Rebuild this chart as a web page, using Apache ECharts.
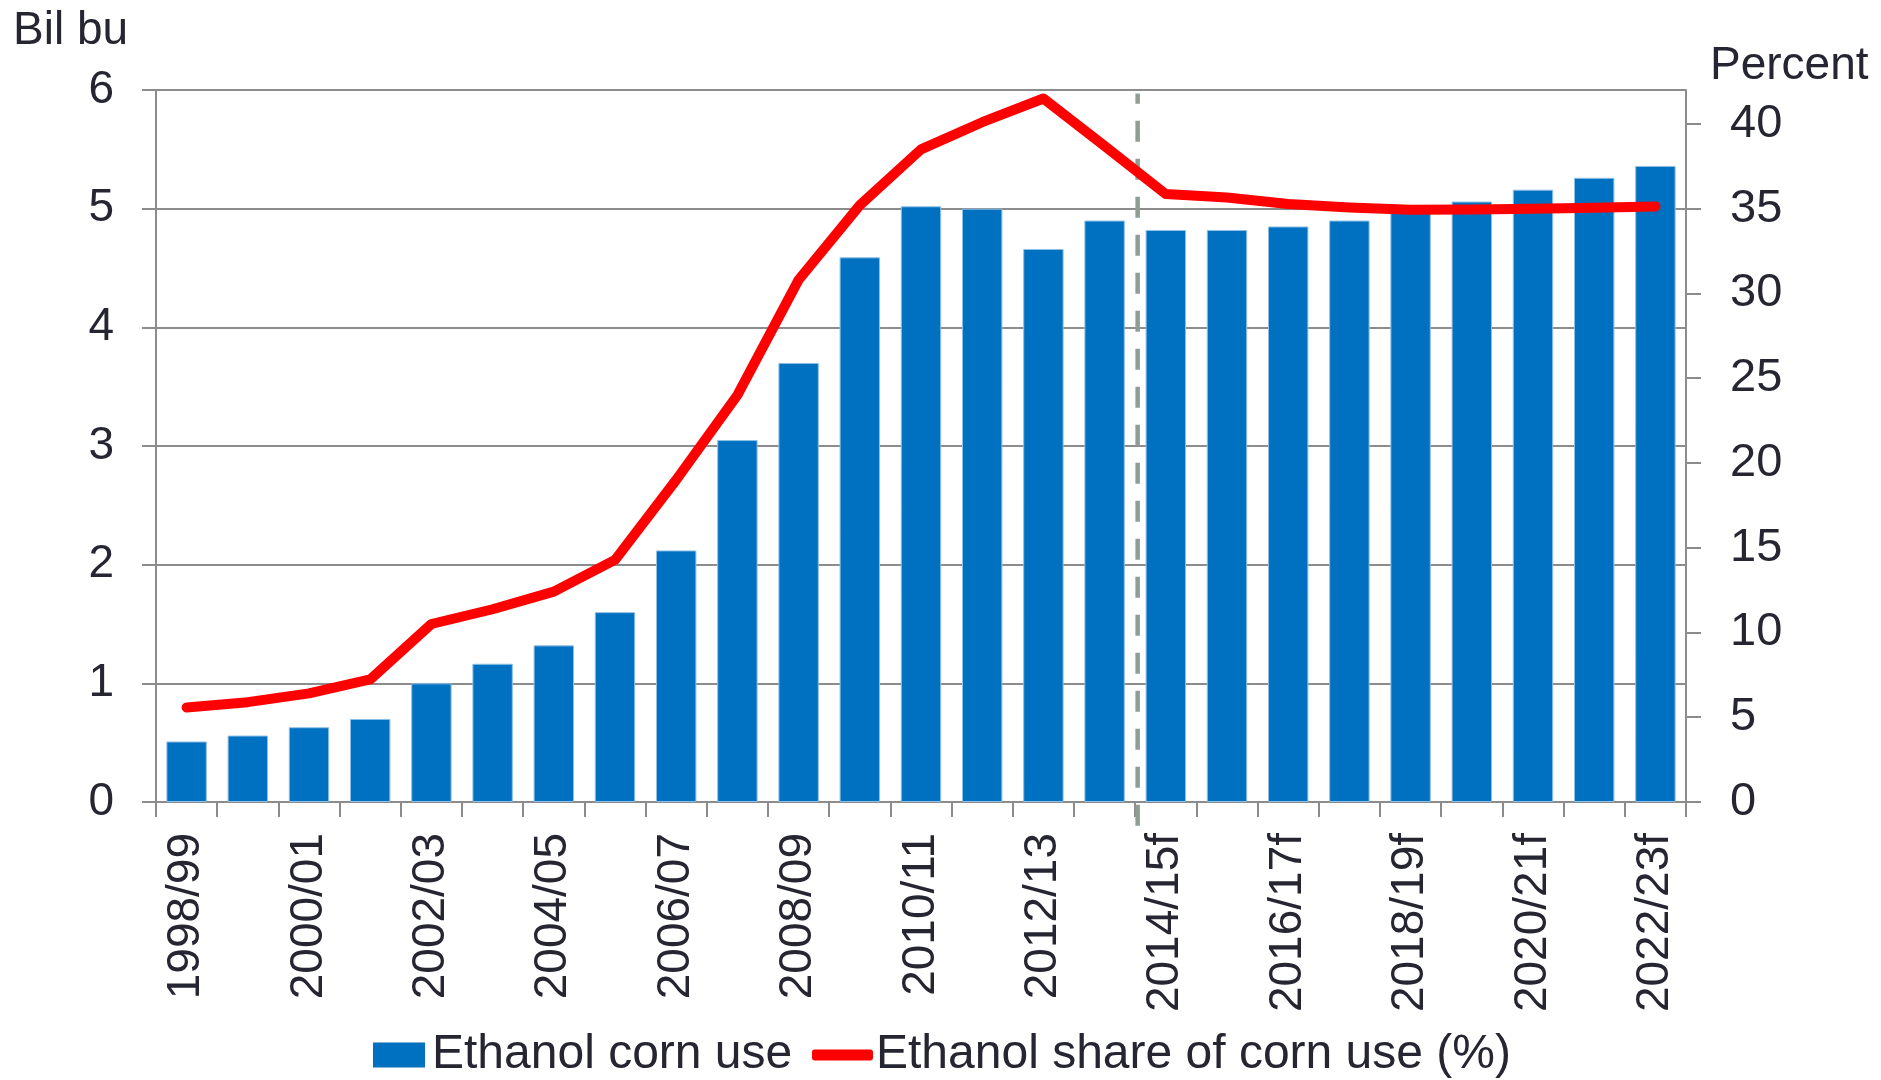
<!DOCTYPE html>
<html>
<head>
<meta charset="utf-8">
<style>
  html, body { margin: 0; padding: 0; background: #ffffff; }
  #chart { width: 1881px; height: 1080px; }
</style>
<script src="https://cdn.jsdelivr.net/npm/echarts@6/dist/echarts.min.js"></script>
</head>
<body>
<div id="chart"></div>
<script>
const categories = [
  '1998/99', '1999/00', '2000/01', '2001/02', '2002/03', '2003/04', '2004/05',
  '2005/06', '2006/07', '2007/08', '2008/09', '2009/10', '2010/11', '2011/12',
  '2012/13', '2013/14', '2014/15f', '2015/16f', '2016/17f', '2017/18f',
  '2018/19f', '2019/20f', '2020/21f', '2021/22f', '2022/23f'
];
const cornUse = [
  0.51, 0.56, 0.63, 0.70, 1.00, 1.165, 1.32, 1.60, 2.12, 3.05, 3.70, 4.59,
  5.02, 5.00, 4.66, 4.90, 4.82, 4.82, 4.85, 4.90, 4.97, 5.06, 5.16, 5.26, 5.36
];
const sharePct = [
  5.58, 5.89, 6.41, 7.23, 10.5, 11.37, 12.41, 14.28, 19.0, 24.0, 30.8, 35.2,
  38.5, 40.1, 41.5, 38.7, 35.86, 35.66, 35.27, 35.07, 34.93, 34.95, 35.0, 35.05, 35.13
];
const leftTicks = [0, 1, 2, 3, 4, 5, 6];
const rightTicks = [0, 5, 10, 15, 20, 25, 30, 35, 40];
const forecastBoundary = [[16.04, -0.2], [16.04, 5.97]];

const FONT = "'Liberation Sans', Arial, sans-serif";
const TXT = '#262632';
const AXIS = '#8c8c8c';

const chart = echarts.init(document.getElementById('chart'));
chart.setOption({
  animation: false,
  backgroundColor: '#ffffff',
  grid: { left: 156, right: 195, top: 90, bottom: 278, containLabel: false },
  graphic: [
    { type: 'text', left: 13, top: 8,
      style: { text: 'Bil bu', font: '46px ' + FONT, fill: TXT } },
    { type: 'text', left: 1710, top: 43,
      style: { text: 'Percent', font: '46px ' + FONT, fill: TXT } }
  ],
  legend: [
    {
      data: [{ name: 'Ethanol corn use', icon: 'rect' }],
      left: 373, top: 1031, padding: 0,
      itemWidth: 52, itemHeight: 25, itemGap: 0,
      itemStyle: { borderWidth: 0 },
      textStyle: { fontFamily: FONT, fontSize: 48, color: TXT, padding: [0, 0, 0, 2] },
      selectedMode: false
    },
    {
      data: [{ name: 'Ethanol share of corn use (%)', icon: 'roundRect' }],
      left: 812, top: 1031, padding: 0,
      itemWidth: 61, itemHeight: 11, itemGap: 0,
      textStyle: { fontFamily: FONT, fontSize: 48, color: TXT, padding: [0, 0, 0, -2] },
      selectedMode: false
    }
  ],
  xAxis: [
    {
      type: 'category',
      data: categories,
      boundaryGap: true,
      axisLine: { show: true, lineStyle: { color: AXIS, width: 2 } },
      axisTick: { show: true, interval: 0, length: 15, lineStyle: { color: AXIS, width: 2 } },
      axisLabel: {
        interval: 1, rotate: 90, margin: 31,
        fontFamily: FONT, fontSize: 46, color: TXT
      },
      splitLine: { show: false }
    },
    {
      type: 'value', min: 0, max: 25, show: false
    }
  ],
  yAxis: [
    {
      type: 'value', min: 0, max: 6, interval: 1, position: 'left',
      axisLine: { show: true, lineStyle: { color: AXIS, width: 2 } },
      axisTick: { show: true, length: 14, lineStyle: { color: AXIS, width: 2 } },
      axisLabel: { margin: 42, fontFamily: FONT, fontSize: 46, color: TXT,
        customValues: leftTicks },
      splitLine: { show: true, lineStyle: { color: AXIS, width: 2 } }
    },
    {
      type: 'value', min: 0, max: 42, interval: 5, position: 'right',
      axisLine: { show: true, lineStyle: { color: AXIS, width: 2 } },
      axisTick: { show: true, length: 15, lineStyle: { color: AXIS, width: 2 },
        customValues: rightTicks },
      axisLabel: { margin: 44, fontFamily: FONT, fontSize: 47, color: TXT,
        customValues: rightTicks },
      splitLine: { show: false }
    }
  ],
  series: [
    {
      name: 'Ethanol corn use',
      type: 'bar',
      data: cornUse,
      xAxisIndex: 0, yAxisIndex: 0,
      barCategoryGap: '34%',
      itemStyle: { color: '#0070C0', borderColor: '#8fbfe6', borderWidth: 1 },
      z: 2
    },
    {
      name: 'forecast boundary',
      type: 'line',
      data: forecastBoundary,
      xAxisIndex: 1, yAxisIndex: 0,
      symbol: 'none', clip: false, silent: true,
      lineStyle: { color: '#8e9e94', width: 4.5, type: [21, 17] },
      z: 3
    },
    {
      name: 'Ethanol share of corn use (%)',
      type: 'line',
      data: sharePct,
      xAxisIndex: 0, yAxisIndex: 1,
      symbol: 'none',
      itemStyle: { color: '#ff0000' },
      lineStyle: { color: '#ff0000', width: 10, cap: 'round', join: 'round' },
      z: 4
    }
  ]
});
</script>
</body>
</html>
